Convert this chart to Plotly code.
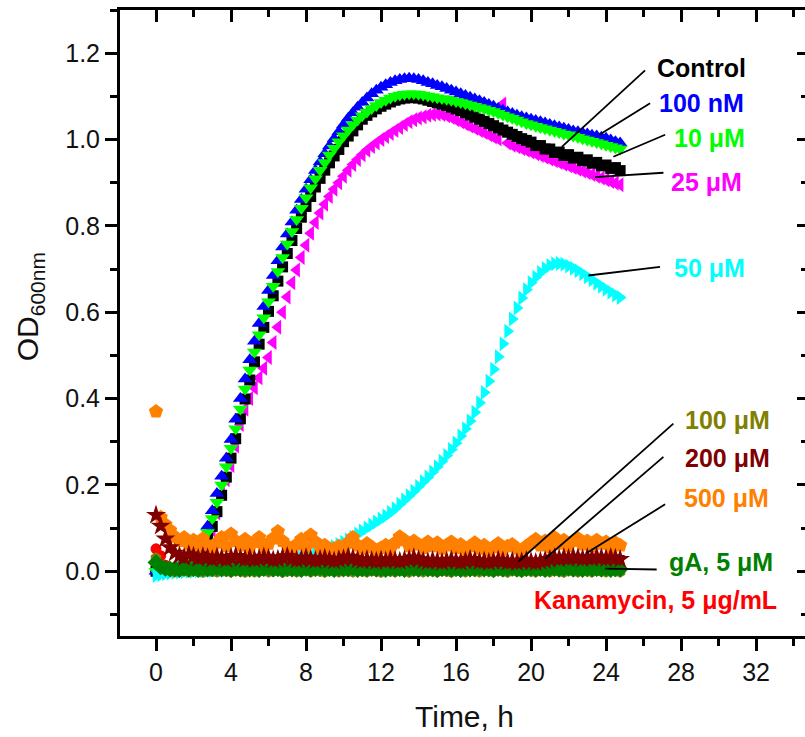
import plotly.graph_objects as go

# Plate-reader growth curves, one reading every 15 min
STEP_H = 0.25
TIME_H = [round(i * STEP_H, 2) for i in range(100)]

CONTROL = [
    0.000, 0.001, 0.002, 0.003, 0.005, 0.008, 0.012, 0.018, 0.026, 0.038,
    0.054, 0.076, 0.104, 0.138, 0.176, 0.218, 0.262, 0.307, 0.353, 0.399,
    0.443, 0.485, 0.526, 0.565, 0.602, 0.638, 0.672, 0.705, 0.736, 0.766,
    0.794, 0.820, 0.845, 0.868, 0.890, 0.910, 0.929, 0.946, 0.962, 0.977,
    0.995, 1.008, 1.020, 1.034, 1.047, 1.056, 1.064, 1.071, 1.077, 1.082,
    1.087, 1.091, 1.094, 1.096, 1.097, 1.097, 1.096, 1.094, 1.091, 1.088,
    1.085, 1.082, 1.079, 1.075, 1.071, 1.067, 1.062, 1.057, 1.052, 1.047,
    1.042, 1.037, 1.032, 1.027, 1.022, 1.017, 1.012, 1.007, 1.002, 0.998,
    0.994, 0.986, 0.986, 0.978, 0.978, 0.970, 0.971, 0.963, 0.965, 0.957,
    0.959, 0.951, 0.953, 0.945, 0.947, 0.939, 0.941, 0.933, 0.935, 0.928,
]

NM_100 = [
    0.000, 0.001, 0.003, 0.005, 0.008, 0.012, 0.018, 0.026, 0.038, 0.054,
    0.075, 0.104, 0.140, 0.180, 0.220, 0.262, 0.305, 0.352, 0.400, 0.445,
    0.490, 0.533, 0.574, 0.613, 0.650, 0.685, 0.719, 0.751, 0.781, 0.809,
    0.836, 0.861, 0.885, 0.907, 0.928, 0.948, 0.967, 0.985, 1.002, 1.018,
    1.034, 1.049, 1.062, 1.075, 1.086, 1.096, 1.106, 1.114, 1.121, 1.127,
    1.132, 1.136, 1.139, 1.141, 1.142, 1.141, 1.139, 1.136, 1.132, 1.129,
    1.125, 1.122, 1.118, 1.114, 1.110, 1.106, 1.102, 1.098, 1.094, 1.090,
    1.086, 1.081, 1.077, 1.072, 1.068, 1.064, 1.060, 1.056, 1.053, 1.050,
    1.047, 1.044, 1.041, 1.038, 1.035, 1.032, 1.029, 1.026, 1.023, 1.020,
    1.018, 1.015, 1.013, 1.010, 1.008, 1.005, 1.003, 0.999, 0.995, 0.992,
]

UM_10 = [
    0.000, 0.001, 0.002, 0.004, 0.007, 0.010, 0.015, 0.022, 0.032, 0.046,
    0.065, 0.090, 0.122, 0.160, 0.200, 0.242, 0.285, 0.330, 0.376, 0.422,
    0.466, 0.508, 0.548, 0.587, 0.624, 0.660, 0.694, 0.727, 0.758, 0.787,
    0.815, 0.841, 0.865, 0.888, 0.909, 0.929, 0.947, 0.964, 0.980, 0.995,
    1.009, 1.022, 1.034, 1.045, 1.055, 1.064, 1.072, 1.079, 1.086, 1.091,
    1.096, 1.100, 1.103, 1.105, 1.106, 1.106, 1.105, 1.103, 1.101, 1.099,
    1.097, 1.095, 1.093, 1.091, 1.088, 1.086, 1.083, 1.080, 1.077, 1.074,
    1.071, 1.068, 1.065, 1.061, 1.057, 1.053, 1.049, 1.045, 1.041, 1.037,
    1.034, 1.031, 1.028, 1.025, 1.022, 1.019, 1.016, 1.013, 1.011, 1.008,
    1.005, 1.002, 0.999, 0.996, 0.993, 0.990, 0.987, 0.984, 0.981, 0.978,
]

UM_25 = [
    0.000, -0.002, 0.001, 0.002, 0.004, 0.006, 0.009, 0.013, 0.019, 0.027,
    0.039, 0.062, 0.095, 0.135, 0.180, 0.212, 0.245, 0.290, 0.340, 0.375,
    0.400, 0.425, 0.448, 0.470, 0.495, 0.530, 0.565, 0.600, 0.635, 0.668,
    0.698, 0.727, 0.755, 0.783, 0.808, 0.830, 0.850, 0.868, 0.885, 0.900,
    0.915, 0.929, 0.942, 0.954, 0.965, 0.975, 0.984, 0.992, 1.000, 1.007,
    1.014, 1.021, 1.028, 1.035, 1.041, 1.046, 1.050, 1.053, 1.056, 1.058,
    1.059, 1.058, 1.055, 1.051, 1.046, 1.041, 1.036, 1.031, 1.026, 1.021,
    1.016, 1.011, 1.006, 1.001, 1.082, 0.992, 0.987, 0.983, 0.979, 0.975,
    0.971, 0.967, 0.963, 0.959, 0.955, 0.951, 0.947, 0.943, 0.939, 0.935,
    0.931, 0.927, 0.923, 0.919, 0.915, 0.911, 0.907, 0.903, 0.899, 0.895,
]

UM_50 = [
    -0.010, -0.008, -0.006, -0.004, -0.003, -0.002, -0.001, 0.000, 0.000, 0.001,
    0.001, 0.002, 0.002, 0.003, 0.003, 0.004, 0.005, 0.006, 0.007, 0.008,
    0.009, 0.010, 0.012, 0.013, 0.015, 0.017, 0.019, 0.021, 0.023, 0.025,
    0.028, 0.031, 0.034, 0.037, 0.040, 0.044, 0.048, 0.052, 0.057, 0.062,
    0.067, 0.073, 0.079, 0.086, 0.093, 0.100, 0.107, 0.114, 0.121, 0.128,
    0.136, 0.145, 0.155, 0.165, 0.175, 0.185, 0.196, 0.207, 0.218, 0.230,
    0.242, 0.255, 0.268, 0.282, 0.297, 0.313, 0.330, 0.348, 0.368, 0.390,
    0.414, 0.440, 0.468, 0.497, 0.527, 0.556, 0.584, 0.610, 0.633, 0.652,
    0.668, 0.681, 0.692, 0.701, 0.708, 0.712, 0.713, 0.711, 0.707, 0.702,
    0.696, 0.689, 0.682, 0.675, 0.667, 0.660, 0.653, 0.646, 0.640, 0.634,
]

UM_100 = [
    0.030, 0.012, 0.004, 0.001, -0.001, 0.000, 0.002, -0.001, 0.001, 0.000,
    -0.002, 0.001, 0.000, -0.001, 0.002, 0.000, -0.001, 0.001, 0.000, -0.002,
    0.001, -0.001, 0.000, 0.002, -0.001, 0.000, 0.001, -0.002, 0.000, 0.001,
    -0.001, 0.000, 0.002, -0.001, 0.001, 0.000, -0.002, 0.001, 0.000, -0.001,
    0.001, 0.000, -0.001, 0.002, 0.000, -0.001, 0.001, 0.000, -0.002, 0.001,
    0.000, -0.001, 0.001, 0.000, -0.002, 0.001, 0.000, -0.001, 0.002, 0.000,
    -0.001, 0.001, 0.000, -0.002, 0.001, 0.000, -0.001, 0.001, 0.000, -0.001,
    0.002, 0.000, -0.001, 0.001, 0.000, -0.002, 0.001, 0.000, -0.001, 0.001,
    0.000, -0.001, 0.002, 0.000, -0.001, 0.001, 0.000, -0.002, 0.001, 0.000,
    -0.001, 0.001, 0.000, -0.001, 0.002, 0.000, -0.001, 0.001, 0.000, -0.001,
]

UM_200 = [
    0.130, 0.105, 0.075, 0.055, 0.042, 0.036, 0.032, 0.038, 0.035, 0.030,
    0.034, 0.031, 0.028, 0.033, 0.030, 0.027, 0.032, 0.035, 0.030, 0.028,
    0.031, 0.027, 0.029, 0.033, 0.030, 0.026, 0.028, 0.032, 0.034, 0.029,
    0.026, 0.028, 0.031, 0.027, 0.025, 0.028, 0.030, 0.026, 0.024, 0.027,
    0.029, 0.033, 0.030, 0.026, 0.024, 0.027, 0.025, 0.023, 0.026, 0.024,
    0.027, 0.025, 0.023, 0.026, 0.028, 0.031, 0.027, 0.024, 0.022, 0.025,
    0.023, 0.021, 0.024, 0.026, 0.023, 0.021, 0.024, 0.028, 0.025, 0.022,
    0.024, 0.021, 0.023, 0.026, 0.024, 0.021, 0.023, 0.020, 0.022, 0.025,
    0.022, 0.020, 0.023, 0.025, 0.028, 0.031, 0.029, 0.032, 0.030, 0.033,
    0.031, 0.029, 0.032, 0.030, 0.033, 0.031, 0.029, 0.032, 0.030, 0.028,
]

UM_500 = [
    0.370, 0.125, 0.108, 0.095, 0.080, 0.070, 0.078, 0.062, 0.072, 0.058,
    0.075, 0.060, 0.052, 0.066, 0.078, 0.058, 0.086, 0.070, 0.060, 0.074,
    0.055, 0.068, 0.078, 0.056, 0.064, 0.076, 0.092, 0.070, 0.058, 0.050,
    0.062, 0.074, 0.056, 0.084, 0.068, 0.054, 0.060, 0.046, 0.052, 0.058,
    0.048, 0.066, 0.078, 0.060, 0.052, 0.064, 0.056, 0.048, 0.054, 0.060,
    0.050, 0.066, 0.080, 0.072, 0.058, 0.070, 0.062, 0.054, 0.068, 0.058,
    0.066, 0.052, 0.060, 0.068, 0.054, 0.062, 0.048, 0.058, 0.066, 0.052,
    0.060, 0.048, 0.056, 0.064, 0.050, 0.058, 0.062, 0.052, 0.046, 0.058,
    0.066, 0.074, 0.060, 0.070, 0.056, 0.078, 0.064, 0.072, 0.058, 0.070,
    0.076, 0.062, 0.070, 0.058, 0.072, 0.064, 0.068, 0.054, 0.066, 0.060,
]

GA_5UM = [
    0.020, 0.010, 0.007, 0.005, 0.006, 0.004, 0.007, 0.005, 0.006, 0.004,
    0.007, 0.005, 0.006, 0.008, 0.005, 0.006, 0.004, 0.007, 0.005, 0.006,
    0.005, 0.007, 0.004, 0.006, 0.008, 0.005, 0.006, 0.004, 0.007, 0.005,
    0.006, 0.004, 0.007, 0.005, 0.006, 0.008, 0.005, 0.006, 0.004, 0.007,
    0.005, 0.006, 0.008, 0.004, 0.006, 0.005, 0.007, 0.005, 0.006, 0.004,
    0.007, 0.005, 0.006, 0.004, 0.007, 0.006, 0.005, 0.008, 0.005, 0.006,
    0.004, 0.006, 0.007, 0.005, 0.006, 0.004, 0.007, 0.005, 0.006, 0.008,
    0.005, 0.006, 0.004, 0.007, 0.005, 0.006, 0.008, 0.005, 0.004, 0.006,
    0.007, 0.005, 0.006, 0.004, 0.006, 0.007, 0.005, 0.006, 0.008, 0.005,
    0.006, 0.004, 0.007, 0.005, 0.006, 0.005, 0.007, 0.004, 0.006, 0.005,
]

KANAMYCIN = [
    0.052, 0.036, 0.014, 0.006, 0.004, 0.003, 0.004, 0.002, 0.003, 0.004,
    0.003, 0.002, 0.004, 0.003, 0.005, 0.003, 0.002, 0.004, 0.003, 0.002,
    0.004, 0.003, 0.005, 0.002, 0.003, 0.004, 0.003, 0.002, 0.004, 0.003,
    0.002, 0.004, 0.003, 0.005, 0.003, 0.002, 0.004, 0.003, 0.002, 0.004,
    0.003, 0.005, 0.002, 0.003, 0.004, 0.003, 0.002, 0.004, 0.003, 0.005,
    0.003, 0.002, 0.004, 0.003, 0.002, 0.004, 0.003, 0.005, 0.002, 0.003,
    0.004, 0.003, 0.002, 0.004, 0.003, 0.005, 0.003, 0.002, 0.004, 0.003,
    0.002, 0.004, 0.003, 0.005, 0.003, 0.002, 0.004, 0.003, 0.002, 0.004,
    0.003, 0.005, 0.002, 0.003, 0.004, 0.003, 0.002, 0.004, 0.003, 0.005,
    0.003, 0.002, 0.004, 0.003, 0.002, 0.004, 0.003, 0.005, 0.002, 0.003,
]

# Drawing order (first = underneath) and marker styling
SERIES = [
    ("25 μM", UM_25),
    ("Control", CONTROL),
    ("100 nM", NM_100),
    ("10 μM", UM_10),
    ("50 μM", UM_50),
    ("Kanamycin, 5 μg/mL", KANAMYCIN),
    ("100 μM", UM_100),
    ("gA, 5 μM", GA_5UM),
    ("500 μM", UM_500),
    ("200 μM", UM_200),
]

STYLE = {
    "Control": dict(color="#000000", symbol="square", size=11),
    "Kanamycin, 5 μg/mL": dict(color="#FF0000", symbol="circle", size=11),
    "100 nM": dict(color="#0000FF", symbol="triangle-up", size=13),
    "10 μM": dict(color="#00FF00", symbol="triangle-down", size=13),
    "25 μM": dict(color="#FF00FF", symbol="triangle-left", size=13),
    "50 μM": dict(color="#00FFFF", symbol="triangle-right", size=13),
    "100 μM": dict(color="#808000", symbol="hexagon", size=12),
    "200 μM": dict(color="#800000", symbol="star", size=15),
    "500 μM": dict(color="#FF8000", symbol="pentagon", size=15),
    "gA, 5 μM": dict(color="#008000", symbol="diamond", size=13),
}

# Series labels: text position (left edge, middle) and leader line (from, to) in data units
LABELS = [
    ("Control", 26.6, 1.166, (26.08, 1.160), (21.64, 0.983)),
    ("100 nM", 26.7, 1.085, (26.35, 1.084), (23.64, 1.011)),
    ("10 μM", 27.5, 1.004, (27.15, 1.011), (24.39, 0.960)),
    ("25 μM", 27.35, 0.902, (27.06, 0.923), (23.41, 0.913)),
    ("50 μM", 27.5, 0.702, (26.88, 0.705), (23.06, 0.685)),
    ("100 μM", 28.1, 0.350, (27.59, 0.342), (19.32, 0.022)),
    ("200 μM", 28.1, 0.262, (27.06, 0.265), (20.75, 0.029)),
    ("500 μM", 28.05, 0.169, (27.15, 0.155), (22.97, 0.042)),
    ("gA, 5 μM", 27.25, 0.021, (26.70, 0.004), (23.95, 0.006)),
    ("Kanamycin, 5 μg/mL", 20.05, -0.067, None, None),
]

X_RANGE = [-1.92, 34.61]
Y_RANGE = [-0.15, 1.3]
FONT = "Liberation Sans, Arial, sans-serif"

fig = go.Figure()
for name, values in SERIES:
    st = STYLE[name]
    fig.add_trace(go.Scatter(
        x=TIME_H, y=values, mode="markers", name=name,
        marker=dict(color=st["color"], symbol=st["symbol"], size=st["size"],
                    line=dict(width=0)),
    ))

# empty trace that carries the mirrored top/right axes
fig.add_trace(go.Scatter(x=[], y=[], xaxis="x2", yaxis="y2",
                         showlegend=False, hoverinfo="skip"))

annotations = []
shapes = []
for text, lx, ly, p0, p1 in LABELS:
    annotations.append(dict(
        x=lx, y=ly, xref="x", yref="y", text=f"<b>{text}</b>", showarrow=False,
        xanchor="left", yanchor="middle",
        font=dict(family=FONT, size=25, color=STYLE[text]["color"]),
    ))
    if p0 is not None:
        shapes.append(dict(type="line", xref="x", yref="y",
                           x0=p0[0], y0=p0[1], x1=p1[0], y1=p1[1],
                           line=dict(color="black", width=1.8)))

annotations.append(dict(
    x=0.5036, y=-0.129, xref="paper", yref="paper", text="Time, h",
    showarrow=False, xanchor="center", yanchor="middle",
    font=dict(family=FONT, size=30, color="#111111"),
))
annotations.append(dict(
    x=-0.131, y=0.5256, xref="paper", yref="paper", text="OD<sub>600nm</sub>",
    showarrow=False, xanchor="center", yanchor="middle", textangle=-90,
    font=dict(family=FONT, size=30, color="#111111"),
))

tick_font = dict(family=FONT, size=25, color="#111111")

fig.update_layout(
    width=805, height=737,
    margin=dict(l=120, r=0, t=10, b=101),
    paper_bgcolor="white", plot_bgcolor="white",
    showlegend=False,
    annotations=annotations, shapes=shapes,
    xaxis=dict(
        range=X_RANGE, tick0=0, dtick=4, ticks="outside", ticklen=12, tickwidth=2.5,
        tickcolor="black", showline=True, linewidth=3, linecolor="black",
        showgrid=False, zeroline=False, tickfont=tick_font,
        minor=dict(dtick=2, ticks="outside", ticklen=7, tickwidth=2.5, tickcolor="black"),
    ),
    yaxis=dict(
        range=Y_RANGE, tick0=0, dtick=0.2, tickformat=".1f", ticks="outside",
        ticklen=12, tickwidth=2.5, tickcolor="black", showline=True, linewidth=3,
        linecolor="black", showgrid=False, zeroline=False, tickfont=tick_font,
        minor=dict(dtick=0.1, ticks="outside", ticklen=7, tickwidth=2.5, tickcolor="black"),
    ),
    xaxis2=dict(
        range=X_RANGE, overlaying="x", side="top", anchor="y", tick0=0, dtick=4,
        ticks="inside", ticklen=12, tickwidth=2.5, tickcolor="black",
        showline=True, linewidth=3, linecolor="black", showticklabels=False,
        showgrid=False, zeroline=False,
        minor=dict(dtick=2, ticks="inside", ticklen=7, tickwidth=2.5, tickcolor="black"),
    ),
    yaxis2=dict(
        range=Y_RANGE, overlaying="y", side="right", anchor="x", tick0=0, dtick=0.2,
        ticks="inside", ticklen=8, tickwidth=2.5, tickcolor="black",
        showline=False, showticklabels=False, showgrid=False, zeroline=False,
        minor=dict(dtick=0.1, ticks="inside", ticklen=4, tickwidth=2.5, tickcolor="black"),
    ),
)

fig.write_html("out.html")
